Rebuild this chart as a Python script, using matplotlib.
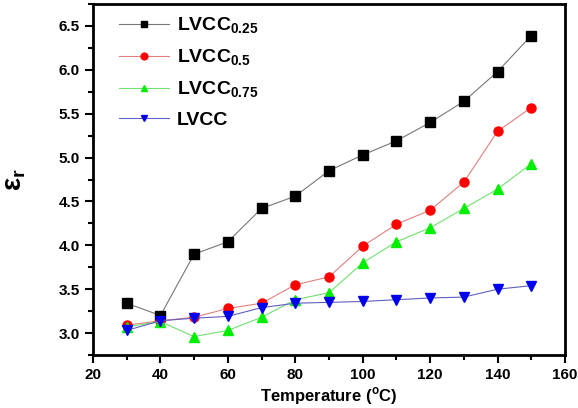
import matplotlib
matplotlib.use("Agg")
import matplotlib.pyplot as plt
from matplotlib.ticker import MultipleLocator

plt.rcParams["font.family"] = ["Liberation Sans", "DejaVu Sans"]
plt.rcParams["font.weight"] = "bold"
plt.rcParams["mathtext.fontset"] = "custom"
plt.rcParams["mathtext.bf"] = "Liberation Sans:bold"
plt.rcParams["mathtext.rm"] = "Liberation Sans:bold"

temperature = [30, 40, 50, 60, 70, 80, 90, 100, 110, 120, 130, 140, 150]
lvcc_025 = [3.34, 3.20, 3.90, 4.04, 4.42, 4.56, 4.85, 5.03, 5.19, 5.40, 5.64, 5.98, 6.39]
lvcc_05 = [3.09, 3.14, 3.18, 3.28, 3.34, 3.55, 3.64, 3.99, 4.24, 4.40, 4.72, 5.30, 5.57]
lvcc_075 = [3.07, 3.13, 2.96, 3.03, 3.18, 3.38, 3.46, 3.80, 4.04, 4.20, 4.42, 4.64, 4.93]
lvcc = [3.03, 3.14, 3.17, 3.19, 3.29, 3.34, 3.35, 3.36, 3.38, 3.40, 3.41, 3.50, 3.54]

series = [
    (lvcc_025, r"LVCC$_{\mathbf{0.25}}$", "s", "black", "#777777"),
    (lvcc_05, r"LVCC$_{\mathbf{0.5}}$", "o", "red", "#e08080"),
    (lvcc_075, r"LVCC$_{\mathbf{0.75}}$", "^", "#00ee00", "#70e070"),
    (lvcc, "LVCC", "v", "#0000ee", "#6060c0"),
]

fig = plt.figure(figsize=(5.78, 4.08), dpi=100)
ax = fig.add_axes([93 / 578, 53 / 408, 472 / 578, 351 / 408])

for vals, label, marker, mcol, lcol in series:
    ax.plot(temperature, vals, color=lcol, lw=0.8, marker=marker, ms=6.5,
            mfc=mcol, mec=mcol, label=label)

ax.set_xlim(20, 160)
ax.set_ylim(2.75, 6.75)
ax.xaxis.set_major_locator(MultipleLocator(20))
ax.xaxis.set_minor_locator(MultipleLocator(10))
ax.yaxis.set_major_locator(MultipleLocator(0.5))
ax.yaxis.set_minor_locator(MultipleLocator(0.25))
ax.tick_params(which="both", direction="out", width=1.5, top=False, right=False)
ax.tick_params(which="major", length=6, labelsize=11)
ax.tick_params(which="minor", length=3.5)
for s in ax.spines.values():
    s.set_linewidth(2)

ax.set_xlabel(r"Temperature ($^{\mathbf{o}}$C)", fontsize=12, fontweight="bold",
              labelpad=2)
ax.set_ylabel(r"$\mathbf{\varepsilon}_{\mathbf{r}}$", fontsize=20, labelpad=22,
              family="DejaVu Sans")

ax.legend(loc="upper left", bbox_to_anchor=(0.03, 1.0), frameon=False,
          handlelength=2.6, markerscale=0.75, borderaxespad=0.2,
          labelspacing=0.6, handletextpad=0.4,
          prop={"weight": "bold", "size": 14})

fig.savefig("out.png", dpi=100)
